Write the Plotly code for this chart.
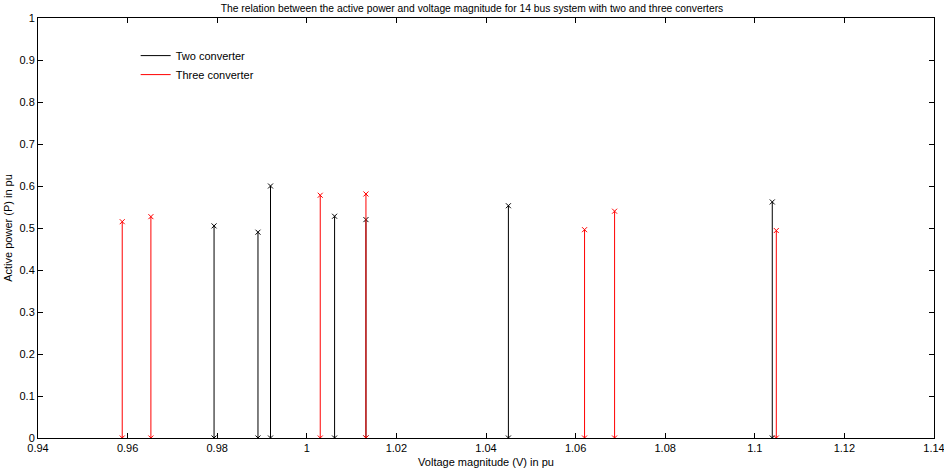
import plotly.graph_objects as go

# Data
two_v = [0.9793, 0.9891, 0.9919, 1.0062, 1.0132, 1.0450, 1.1039]
two_p = [0.505, 0.490, 0.600, 0.528, 0.520, 0.553, 0.562]
three_v = [0.9588, 0.9652, 1.0030, 1.0132, 1.0620, 1.0687, 1.1048]
three_p = [0.515, 0.527, 0.578, 0.581, 0.496, 0.540, 0.494]

x_ticks = [0.94, 0.96, 0.98, 1.0, 1.02, 1.04, 1.06, 1.08, 1.1, 1.12, 1.14]
x_tick_labels = ["0.94", "0.96", "0.98", "1", "1.02", "1.04", "1.06", "1.08", "1.1", "1.12", "1.14"]
y_ticks = [0, 0.1, 0.2, 0.3, 0.4, 0.5, 0.6, 0.7, 0.8, 0.9, 1]
y_tick_labels = ["0", "0.1", "0.2", "0.3", "0.4", "0.5", "0.6", "0.7", "0.8", "0.9", "1"]

FONT = "Liberation Sans Narrow, Arial Narrow, Liberation Sans, Arial, sans-serif"


def stems(xs, ys):
    sx, sy = [], []
    for x, y in zip(xs, ys):
        sx += [x, x, None]
        sy += [0, y, None]
    return sx, sy


fig = go.Figure()
series = [(two_v, two_p, "#000000", "Two converter"),
          (three_v, three_p, "#ff0000", "Three converter")]
for xs, ys, color, name in series:
    sx, sy = stems(xs, ys)
    fig.add_trace(go.Scatter(
        x=sx, y=sy, mode="lines", showlegend=False,
        line=dict(color=color, width=1), hoverinfo="skip"))
    fig.add_trace(go.Scatter(
        x=sx, y=sy, mode="markers", showlegend=False,
        marker=dict(symbol="x-thin", size=5, color=color,
                    line=dict(color=color, width=1)),
        hoverinfo="skip"))
for xs, ys, color, name in series:
    fig.add_trace(go.Scatter(
        x=[None], y=[None], mode="lines", name=name,
        line=dict(color=color, width=1)))

axis_common = dict(
    showline=True, linecolor="black", linewidth=1, mirror="allticks",
    ticks="inside", ticklen=5, tickcolor="black", showgrid=False,
    zeroline=False, ticklabeloverflow="allow", automargin=False,
    tickfont=dict(family=FONT, size=11, color="black"))

fig.update_xaxes(range=[0.94, 1.1400001], tickvals=x_ticks, ticktext=x_tick_labels,
                 title=dict(text="Voltage magnitude (V) in pu", standoff=5,
                            font=dict(family=FONT, size=11, color="black")),
                 **axis_common)
fig.update_yaxes(range=[0, 1.0000001], tickvals=y_ticks, ticktext=y_tick_labels,
                 title=dict(text="Active power (P) in pu", standoff=4,
                            font=dict(family=FONT, size=11, color="black")),
                 **axis_common)

fig.update_layout(
    width=944, height=470,
    margin=dict(l=38, r=10, t=18, b=32),
    paper_bgcolor="white", plot_bgcolor="white",
    title=dict(text="The relation between the active power and voltage magnitude for 14 bus system with two and three converters",
               x=0.5, xanchor="center", y=0.99, yanchor="top",
               font=dict(family=FONT, size=10.3, color="black")),
    legend=dict(x=0.109, y=0.945, xanchor="left", yanchor="top",
                bgcolor="rgba(0,0,0,0)", borderwidth=0,
                font=dict(family=FONT, size=11, color="black"),
                tracegroupgap=0, itemwidth=30),
    font=dict(family=FONT, size=11, color="black"),
)

fig.write_html("out.html")
